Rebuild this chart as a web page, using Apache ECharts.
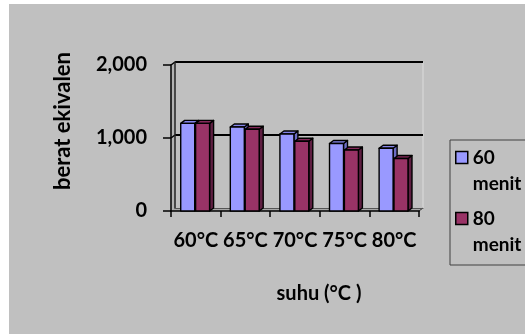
<!DOCTYPE html>
<html><head><meta charset="utf-8">
<script src="https://cdn.jsdelivr.net/npm/echarts@6/dist/echarts.min.js"></script>
<style>
html,body{margin:0;padding:0;background:#fff;width:525px;height:334px;overflow:hidden;}
#bg{position:absolute;left:9px;top:4px;width:516px;height:330px;background:#c0c0c0;}
#chart{position:absolute;left:0;top:0;width:525px;height:334px;}
</style></head><body><div id="bg"></div><div id="chart"></div>
<script>
const categories = ['60°C', '65°C', '70°C', '75°C', '80°C'];
const seriesNames = ['60 menit', '80 menit'];
const values60 = [1200, 1150, 1055, 925, 860];
const values80 = [1200, 1120, 955, 835, 720];
const yTicks = [0, 1000, 2000];
const yAxisTitle = 'berat ekivalen';
const xAxisTitle = 'suhu (°C )';

const FONT = 'Lato';
const DX = 4, DY = -3;
const colorSets = [
  {front: '#9999ff', top: '#8484e8', side: '#6c6cc4'},
  {front: '#993366', top: '#84295a', side: '#5f1f42'}
];

function barRenderer(slot, colors) {
  return function (params, api) {
    const ci = api.value(0), v = api.value(1);
    const c = api.coord([ci, v]);
    const b = api.coord([ci, 0]);
    const band = api.size([1, 0])[0];
    const w = band * 0.282;
    const x0 = c[0] - band * 0.304 + slot * band * 0.30;
    const ty = c[1], by = b[1];
    const st = {stroke: '#000', lineWidth: 1.4, lineJoin: 'round'};
    return {type: 'group', children: [
      {type: 'polygon', shape: {points: [[x0 + w, ty], [x0 + w + DX, ty + DY], [x0 + w + DX, by + DY], [x0 + w, by]]}, style: Object.assign({fill: colors.side}, st)},
      {type: 'polygon', shape: {points: [[x0, ty], [x0 + w, ty], [x0 + w + DX, ty + DY], [x0 + DX, ty + DY]]}, style: Object.assign({fill: colors.top}, st)},
      {type: 'rect', shape: {x: x0, y: ty, width: w, height: by - ty}, style: Object.assign({fill: colors.front}, st)}
    ]};
  };
}

function frameRenderer(params, api) {
  const cs = params.coordSys;
  const L = cs.x, R = cs.x + cs.width, T = cs.y, B = cs.y + cs.height;
  const y1000 = api.coord([0, yTicks[1]])[1];
  return {type: 'group', children: [
    {type: 'polygon', shape: {points: [[L, T], [L + DX, T + DY], [L + DX, B + DY], [L, B]]}, style: {fill: '#b2b2b2'}},
    {type: 'polygon', shape: {points: [[L, B], [R, B], [R + DX, B + DY], [L + DX, B + DY]]}, style: {fill: '#a8a8a8'}},
    {type: 'line', shape: {x1: R + DX, y1: T + DY, x2: R + DX, y2: B + DY}, style: {stroke: '#dcdcdc', lineWidth: 1}},
    {type: 'line', shape: {x1: R, y1: B, x2: R + DX, y2: B + DY}, style: {stroke: '#333', lineWidth: 1}},
    {type: 'line', shape: {x1: L, y1: y1000, x2: L + DX, y2: y1000 + DY}, style: {stroke: '#000', lineWidth: 1.5}},
    {type: 'line', shape: {x1: L, y1: T, x2: L + DX, y2: T + DY}, style: {stroke: '#000', lineWidth: 1.5}}
  ]};
}

const txt = {fontFamily: FONT, fontWeight: 'bold', color: '#000'};
const chart = echarts.init(document.getElementById('chart'), null, {renderer: 'canvas'});
chart.setOption({
  animation: false,
  backgroundColor: 'transparent',
  grid: [
    {left: 171, right: 106, top: 65, bottom: 123, outerBoundsMode: 'none'},
    {left: 171 + DX, right: 106 - DX, top: 65 + DY, bottom: 123 - DY, outerBoundsMode: 'none'}
  ],
  xAxis: [
    {type: 'category', gridIndex: 0, data: categories, boundaryGap: true,
     axisLine: {show: true, lineStyle: {color: '#000', width: 1.5}},
     axisTick: {show: true, interval: 0, alignWithLabel: false, length: 6, lineStyle: {color: '#000', width: 1.5}},
     axisLabel: Object.assign({margin: 20, fontSize: 20, interval: 0}, txt),
     splitLine: {show: false},
     name: xAxisTitle, nameLocation: 'middle', nameGap: 73,
     nameTextStyle: Object.assign({fontSize: 20, padding: [0, 0, 0, 48]}, txt)},
    {type: 'category', gridIndex: 1, data: categories, boundaryGap: true,
     axisLine: {show: true, lineStyle: {color: '#555', width: 1}},
     axisTick: {show: false}, axisLabel: {show: false}, splitLine: {show: false}}
  ],
  yAxis: [
    {type: 'value', gridIndex: 0, min: yTicks[0], max: yTicks[yTicks.length - 1], interval: yTicks[1] - yTicks[0],
     axisLine: {show: true, lineStyle: {color: '#000', width: 1.5}},
     axisTick: {show: true, length: 8, lineStyle: {color: '#000', width: 1.5}},
     axisLabel: Object.assign({margin: 24, fontSize: 20, formatter: v => v.toLocaleString('en-US')}, txt),
     splitLine: {show: false},
     name: yAxisTitle, nameLocation: 'middle', nameRotate: 90, nameGap: 97,
     nameTextStyle: Object.assign({fontSize: 22, padding: [0, 0, 0, 34]}, txt)},
    {type: 'value', gridIndex: 1, min: yTicks[0], max: yTicks[yTicks.length - 1], interval: yTicks[1] - yTicks[0],
     axisLine: {show: true, lineStyle: {color: '#222', width: 1.5}},
     axisTick: {show: false}, axisLabel: {show: false},
     splitLine: {show: true, showMinLine: false, lineStyle: {color: '#000', width: 2}}}
  ],
  legend: {
    data: seriesNames, orient: 'vertical', left: 455, top: 122, padding: 0, itemGap: -10,
    icon: 'rect', itemWidth: 12, itemHeight: 12,
    itemStyle: {borderColor: '#000', borderWidth: 1.5},
    formatter: function (name) {
      const p = name.split(' ');
      return '{e| }\n{a|' + p[0] + '}\n{b|' + p[1] + '}';
    },
    textStyle: Object.assign({fontSize: 19, rich: {
      e: Object.assign({fontSize: 19, lineHeight: 10}, txt),
      a: Object.assign({fontSize: 19, lineHeight: 42}, txt),
      b: Object.assign({fontSize: 19, lineHeight: 10}, txt)
    }}, txt)
  },
  graphic: [
    {type: 'rect', left: 447.5, top: 137.5, shape: {width: 100, height: 125}, style: {fill: 'none', stroke: '#404040', lineWidth: 1}, z: 0, silent: true}
  ],
  series: [
    {type: 'custom', xAxisIndex: 0, yAxisIndex: 0, z: -1, silent: true, renderItem: frameRenderer, data: [[0, 0]], encode: {x: 0, y: 1}},
    {type: 'custom', name: seriesNames[0], xAxisIndex: 0, yAxisIndex: 0, renderItem: barRenderer(0, colorSets[0]),
     itemStyle: {color: colorSets[0].front}, encode: {x: 0, y: 1},
     data: values60.map((v, i) => [i, v])},
    {type: 'custom', name: seriesNames[1], xAxisIndex: 0, yAxisIndex: 0, renderItem: barRenderer(1, colorSets[1]),
     itemStyle: {color: colorSets[1].front}, encode: {x: 0, y: 1},
     data: values80.map((v, i) => [i, v])}
  ]
});
</script></body></html>
